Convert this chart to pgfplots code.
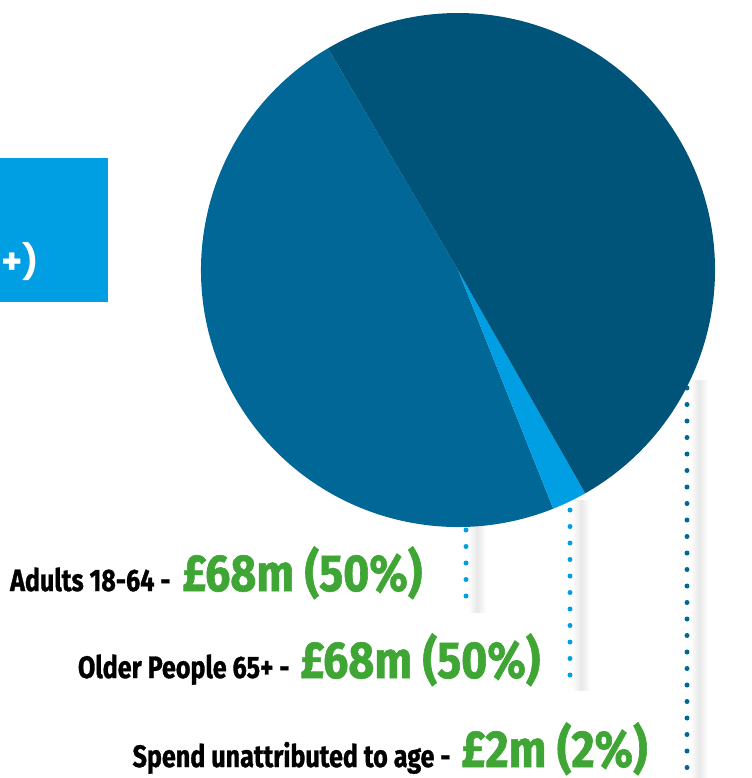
\documentclass[border=0pt]{standalone}
\usepackage{fontspec}
\usepackage{pgfplots}
\usepackage{pgfplotstable}
\pgfplotsset{compat=1.18}
\newfontfamily\labelfont{Fira Sans}[FakeStretch=0.81, FakeBold=1]
\newfontfamily\greenfont{Fira Sans}[FakeStretch=0.86, FakeBold=1.2]
\newfontfamily\boxfont{Poppins}
\definecolor{medblue}{RGB}{0,103,150}
\definecolor{darkblue}{RGB}{0,84,122}
\definecolor{lightblue}{RGB}{0,158,226}
\definecolor{boxblue}{RGB}{0,159,227}
\definecolor{lblgreen}{RGB}{63,166,54}

% slice shares (percent of the circle), in drawing order
\pgfplotstableread{
slice share
Adults 47.6
Unattributed 2.2
Older 50.2
}\piedata

\begin{document}
\begin{tikzpicture}
\pgfplotstablegetelem{0}{share}\of\piedata \let\sA\pgfplotsretval
\pgfplotstablegetelem{1}{share}\of\piedata \let\sB\pgfplotsretval
\pgfplotstablegetelem{2}{share}\of\piedata \let\sC\pgfplotsretval
\pgfmathsetmacro\aA{120.4}
\pgfmathsetmacro\aB{\aA+3.6*\sA}
\pgfmathsetmacro\aC{\aB+3.6*\sB}
\pgfmathsetmacro\aD{\aC+3.6*\sC}
\begin{scope}[x=0.5pt,y=-0.5pt]
\useasboundingbox (0,0) rectangle (715,778);
% side box
\fill[boxblue] (0,158) rectangle (108,302);
\node[anchor=base west, text=white, font=\boxfont\bfseries\fontsize{17}{20}\selectfont, inner sep=0pt] at (1,273) {+)};
% shadows
\shade[left color=white, right color=white, middle color=black!9] (468,522) rectangle (486,612);
\shade[left color=white, right color=white, middle color=black!9] (572,500) rectangle (590,690);
\shade[left color=white, right color=white, middle color=black!9] (690,380) rectangle (708,778);
% leader dots
\draw[lightblue, line width=2.5pt, line cap=round, dash pattern=on 0pt off 8.25pt] (466,530) -- (466,597);
\draw[lightblue, line width=2.5pt, line cap=round, dash pattern=on 0pt off 8.25pt] (570,510) -- (570,676);
\draw[medblue, line width=2.5pt, line cap=round, dash pattern=on 0pt off 8.25pt] (687,388) -- (687,776);
% labels
\node[anchor=base east, inner sep=0pt, font=\labelfont\bfseries\fontsize{15.5}{17}\selectfont] at (171,591) {Adults 18-64 -};
\node[anchor=base west, inner sep=0pt, text=lblgreen, font=\greenfont\bfseries\fontsize{26}{29}\selectfont] at (182,591) {£68m (50\%)};
\node[anchor=base east, inner sep=0pt, font=\labelfont\bfseries\fontsize{15.5}{17}\selectfont] at (290,678) {Older People 65+ -};
\node[anchor=base west, inner sep=0pt, text=lblgreen, font=\greenfont\bfseries\fontsize{26}{29}\selectfont] at (300,678) {£68m (50\%)};
\node[anchor=base east, inner sep=0pt, font=\labelfont\bfseries\fontsize{15.5}{17}\selectfont] at (451,767) {Spend unattributed to age -};
\node[anchor=base west, inner sep=0pt, text=lblgreen, font=\greenfont\bfseries\fontsize{26}{29}\selectfont] at (461,767) {£2m (2\%)};
\end{scope}
\begin{axis}[
  at={(229pt,-135pt)}, anchor=center,
  scale only axis, width=257pt, height=257pt,
  xmin=-1, xmax=1, ymin=-1, ymax=1,
  hide axis, clip=false]
\fill[medblue] (axis cs:0,0) -- (axis cs:{cos(\aA)},{sin(\aA)}) arc[start angle=\aA, end angle=\aB, radius=128.5pt] -- cycle;
\fill[lightblue] (axis cs:0,0) -- (axis cs:{cos(\aB)},{sin(\aB)}) arc[start angle=\aB, end angle=\aC, radius=128.5pt] -- cycle;
\fill[darkblue] (axis cs:0,0) -- (axis cs:{cos(\aC)},{sin(\aC)}) arc[start angle=\aC, end angle=\aD, radius=128.5pt] -- cycle;
\end{axis}
\end{tikzpicture}
\end{document}
